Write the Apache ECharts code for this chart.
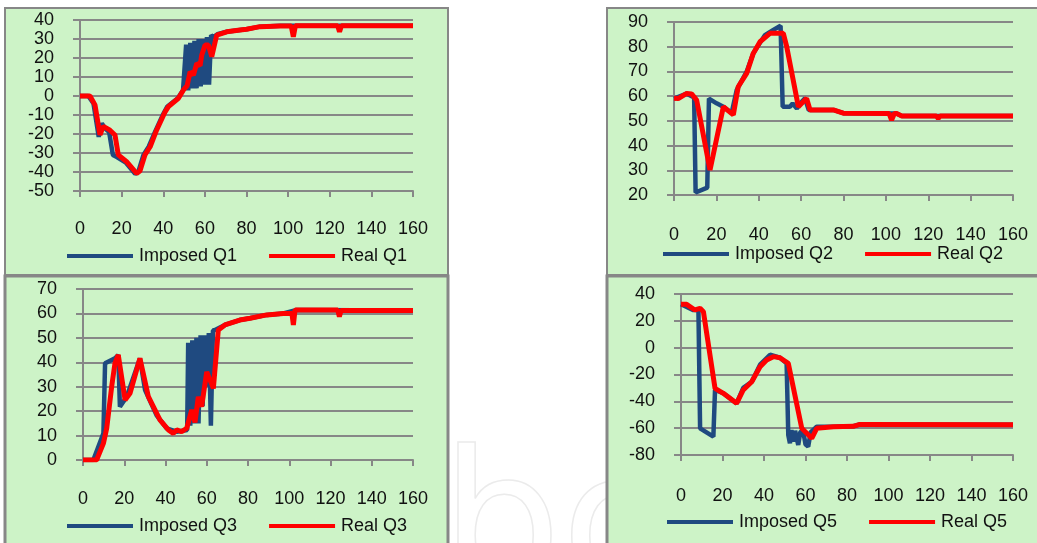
<!DOCTYPE html>
<html>
<head>
<meta charset="utf-8">
<script src="https://cdn.jsdelivr.net/npm/echarts@6/dist/echarts.min.js"></script>
<style>
html, body { margin: 0; padding: 0; background: #fff; }
#chartDom { width: 1037px; height: 543px; }
</style>
</head>
<body>
<div id="chartDom"></div>
<script>
// Q1
const xImposedQ1 = [0, 4, 6.5, 9, 10.5, 12, 14, 15.8, 17.5, 22, 26.5, 28, 30.5, 33, 36, 40, 42, 47, 49.5, 51, 52, 53, 54, 55, 56, 57, 58, 59, 60, 61, 62, 63, 64, 66, 70.5, 76.9, 80, 86.5, 96.2, 160];
const imposedQ1 = [0, 0, -4, -21.5, -14.4, -17, -19, -31, -32, -35, -41, -40, -31, -26.7, -19, -9.5, -5.5, -1.2, 3, 27, 3, 28, 4, 29, 4, 30, 5, 30, 6, 31, 6, 32, 31, 32.5, 33.8, 34.7, 35.1, 36.5, 37, 37];
const xRealQ1 = [0, 4.8, 7.2, 9.6, 11.2, 14.4, 16.8, 18.4, 22.4, 27.2, 28.8, 31.2, 33.7, 36.8, 40.9, 42.5, 47.3, 49.7, 51.5, 52.9, 54.5, 56.1, 57.7, 58.5, 60.1, 61.7, 63.3, 65.7, 70.5, 76.9, 80, 86.5, 96.2, 101.5, 102.5, 103.5, 123.8, 124.7, 125.6, 160];
const realQ1 = [0, 0, -4.7, -20.5, -16, -18, -20.5, -31, -34.6, -40.7, -39.5, -31, -26.7, -18, -8.3, -5.6, -1.2, 3.2, 5.5, 12.8, 11, 17.2, 16, 21.6, 26.8, 26.8, 20.7, 32.1, 33.8, 34.7, 35.1, 36.5, 36.8, 36.8, 31.2, 37, 37, 33.8, 37, 37];

// Q2
const xImposedQ2 = [0, 6, 9.5, 10.2, 15.7, 16.5, 20.1, 23.3, 27.2, 29.6, 34.3, 37.4, 42.9, 46.9, 50.3, 50.8, 51.3, 54.7, 56, 58, 59.5, 61.8, 63.6, 75.2, 79.9, 105, 107.5, 160];
const imposedQ2 = [59, 61, 59.5, 21, 23, 59, 57.1, 55.7, 53.2, 62.5, 69.9, 77.3, 84.7, 86.8, 88.5, 88.8, 55.7, 55.7, 57, 55, 57, 59.1, 54.4, 54.4, 53.1, 53, 52, 52];
const xRealQ2 = [0, 2, 6, 8.3, 10.7, 17, 23.3, 28, 30.3, 34.3, 37.4, 40.6, 45.3, 51.6, 53.2, 58.7, 62.6, 64.2, 75.2, 79.9, 101.5, 102.7, 104, 105.1, 107.5, 123.8, 124.7, 125.6, 160];
const realQ2 = [59.1, 59, 61.1, 60.9, 58.4, 30.1, 55.7, 52.4, 63.8, 69.2, 77.3, 82, 85.4, 85.4, 80, 55.7, 59.1, 54.4, 54.4, 53.1, 53, 50.3, 53, 53, 52, 52, 51, 52, 52];

// Q3
const xImposedQ3 = [0, 5, 9.9, 10.7, 15.5, 17.1, 17.9, 21.2, 27.6, 30.1, 35.7, 40.6, 45.4, 50.5, 51, 52, 53, 54, 55, 56, 57, 58, 59, 60, 61, 62, 63, 64, 68.8, 76, 81, 89.1, 97.1, 103.6, 160];
const imposedQ3 = [0, 0, 10.9, 39.6, 41.6, 43, 21.8, 25.9, 41.6, 28.6, 18.3, 12.9, 11.6, 12.3, 48, 14, 49, 15, 50, 15, 51, 22, 51, 30, 52, 14, 53, 53.2, 55.3, 57.3, 58, 59.4, 60, 61.4, 61.2];
const xRealQ3 = [0, 6.6, 9.9, 11.5, 13.9, 15.5, 17.1, 20.4, 22.8, 27.6, 31.7, 37.3, 41.4, 43.8, 45.4, 47.8, 50.3, 52.7, 54.3, 55.9, 57.5, 60, 63.2, 65.6, 68.8, 76, 81, 89.1, 97.1, 101.3, 102, 102.8, 103.6, 123.5, 124.3, 125.1, 160];
const realQ3 = [0, 0, 6.8, 13, 30, 39.6, 43, 24.6, 27.3, 41.6, 25.9, 16.4, 12.3, 10.9, 12.3, 11.6, 13, 20.5, 15.4, 25.9, 21.8, 36.1, 29.3, 53.2, 55.3, 57.3, 58, 59.4, 60, 60, 55.3, 61.4, 61.4, 61.4, 58.7, 61.2, 61.2];

// Q5
const xImposedQ5 = [0, 6, 8.4, 9.2, 15.6, 16.4, 20.4, 26.8, 30, 34.1, 38.1, 42.9, 47.7, 50.9, 51.7, 52.5, 53.2, 54, 55, 56.5, 57.5, 58.8, 60, 61.3, 62.5, 63.7, 65.4, 73.4, 83, 86.2, 160];
const imposedQ5 = [32.3, 28, 28, -60.1, -66.3, -31.5, -34, -41.5, -30, -25.4, -12.7, -5.3, -7.5, -11.7, -65.1, -71.3, -61.4, -70, -62, -72.5, -63, -61.4, -72, -73.8, -63, -61.4, -58.9, -58.9, -58.6, -57.2, -57.5];
const xRealQ5 = [0, 2.7, 6.7, 9.2, 10.8, 16.4, 20.4, 26.8, 30, 34.1, 38.1, 41.3, 44.5, 47.7, 51.7, 58.2, 63, 65.4, 73.4, 83, 86.2, 160];
const realQ5 = [32.3, 32.3, 28.1, 29.3, 26.8, -30.3, -34, -41.5, -31.5, -25.4, -14.2, -9.2, -6.7, -7.5, -11.7, -60.1, -67.6, -60.1, -58.9, -58.6, -57.2, -57.5];

const xTicks = { min: 0, max: 160, interval: 20 };
const yRanges = [
  { min: -50, max: 40, interval: 10 },
  { min: 20, max: 90, interval: 10 },
  { min: 0, max: 70, interval: 10 },
  { min: -80, max: 40, interval: 20 }
];

const blue = '#1f4a80';
const red = '#ff0000';
const gray = '#878787';
const green = '#cdf3c7';
const font = 'Liberation Sans';
const fontSize = 18;

function zip (xs, ys) {
  return xs.map((x, i) => [x, ys[i]]);
}

const canvasChart = echarts.init(document.getElementById('chartDom'), null, { renderer: 'canvas' });

// panel grids: left, top, width, height
const grids = [
  { left: 80, top: 20, width: 333, height: 171 },
  { left: 674, top: 22, width: 339, height: 173 },
  { left: 83, top: 289, width: 330, height: 171 },
  { left: 681, top: 294, width: 332, height: 161 }
];
const xLabelMargin = [29, 31, 30, 32];
const legendPos = [
  { left: 67, top: 247 },
  { left: 663, top: 245 },
  { left: 67, top: 517 },
  { left: 667, top: 513 }
];
const names = [
  ['Imposed Q1', 'Real Q1'],
  ['Imposed Q2', 'Real Q2'],
  ['Imposed Q3', 'Real Q3'],
  ['Imposed Q5', 'Real Q5']
];
const seriesData = [
  [zip(xImposedQ1, imposedQ1), zip(xRealQ1, realQ1)],
  [zip(xImposedQ2, imposedQ2), zip(xRealQ2, realQ2)],
  [zip(xImposedQ3, imposedQ3), zip(xRealQ3, realQ3)],
  [zip(xImposedQ5, imposedQ5), zip(xRealQ5, realQ5)]
];

const option = {
  animation: false,
  backgroundColor: '#ffffff',
  graphic: [
    // faint watermark
    {
      type: 'text', left: 440, top: 442, z: -10, silent: true,
      style: { text: 'bo', font: '190px "DejaVu Sans"', fill: 'rgba(0,0,0,0)', stroke: '#ebebeb', lineWidth: 1.5 }
    },
    // panels
    { type: 'rect', shape: { x: 5, y: 8, width: 443, height: 267 }, style: { fill: green, stroke: gray, lineWidth: 2 }, z: -5 },
    { type: 'rect', shape: { x: 607, y: 8, width: 440, height: 267 }, style: { fill: green, stroke: gray, lineWidth: 2 }, z: -5 },
    { type: 'rect', shape: { x: 5, y: 276, width: 443, height: 280 }, style: { fill: green, stroke: gray, lineWidth: 3 }, z: -5 },
    { type: 'rect', shape: { x: 607, y: 276, width: 440, height: 280 }, style: { fill: green, stroke: gray, lineWidth: 3 }, z: -5 }
  ],
  grid: grids.map(g => Object.assign({ containLabel: false }, g)),
  legend: names.map((n, i) => ({
    data: n,
    left: legendPos[i].left,
    top: legendPos[i].top,
    icon: 'rect',
    itemWidth: 66,
    itemHeight: 4,
    itemGap: 32,
    padding: 0,
    selectedMode: false,
    textStyle: { fontFamily: font, fontSize: fontSize, color: '#111', padding: [0, 0, 0, 1] }
  })),
  xAxis: grids.map((g, i) => ({
    type: 'value',
    gridIndex: i,
    min: xTicks.min,
    max: xTicks.max,
    interval: xTicks.interval,
    axisLine: { show: true, onZero: false, lineStyle: { color: gray, width: 2 } },
    axisTick: { show: true, length: 6, lineStyle: { color: gray, width: 2 } },
    splitLine: { show: false },
    axisLabel: { color: '#111', fontFamily: font, fontSize: fontSize, margin: xLabelMargin[i] }
  })),
  yAxis: yRanges.map((r, i) => ({
    type: 'value',
    gridIndex: i,
    min: r.min,
    max: r.max,
    interval: r.interval,
    axisLine: { show: true, lineStyle: { color: gray, width: 2 } },
    axisTick: { show: true, length: 7, lineStyle: { color: gray, width: 2 } },
    splitLine: { show: true, lineStyle: { color: gray, width: 2 } },
    axisLabel: { color: '#111', fontFamily: font, fontSize: fontSize, margin: 26 }
  })),
  series: []
};

names.forEach((n, i) => {
  option.series.push({
    name: n[0], type: 'line', xAxisIndex: i, yAxisIndex: i,
    data: seriesData[i][0], showSymbol: false, symbol: 'none',
    color: blue, lineStyle: { color: blue, width: 4.5 }, z: 2
  });
  option.series.push({
    name: n[1], type: 'line', xAxisIndex: i, yAxisIndex: i,
    data: seriesData[i][1], showSymbol: false, symbol: 'none',
    color: red, lineStyle: { color: red, width: 5 }, z: 3
  });
});

canvasChart.setOption(option);
</script>
</body>
</html>
